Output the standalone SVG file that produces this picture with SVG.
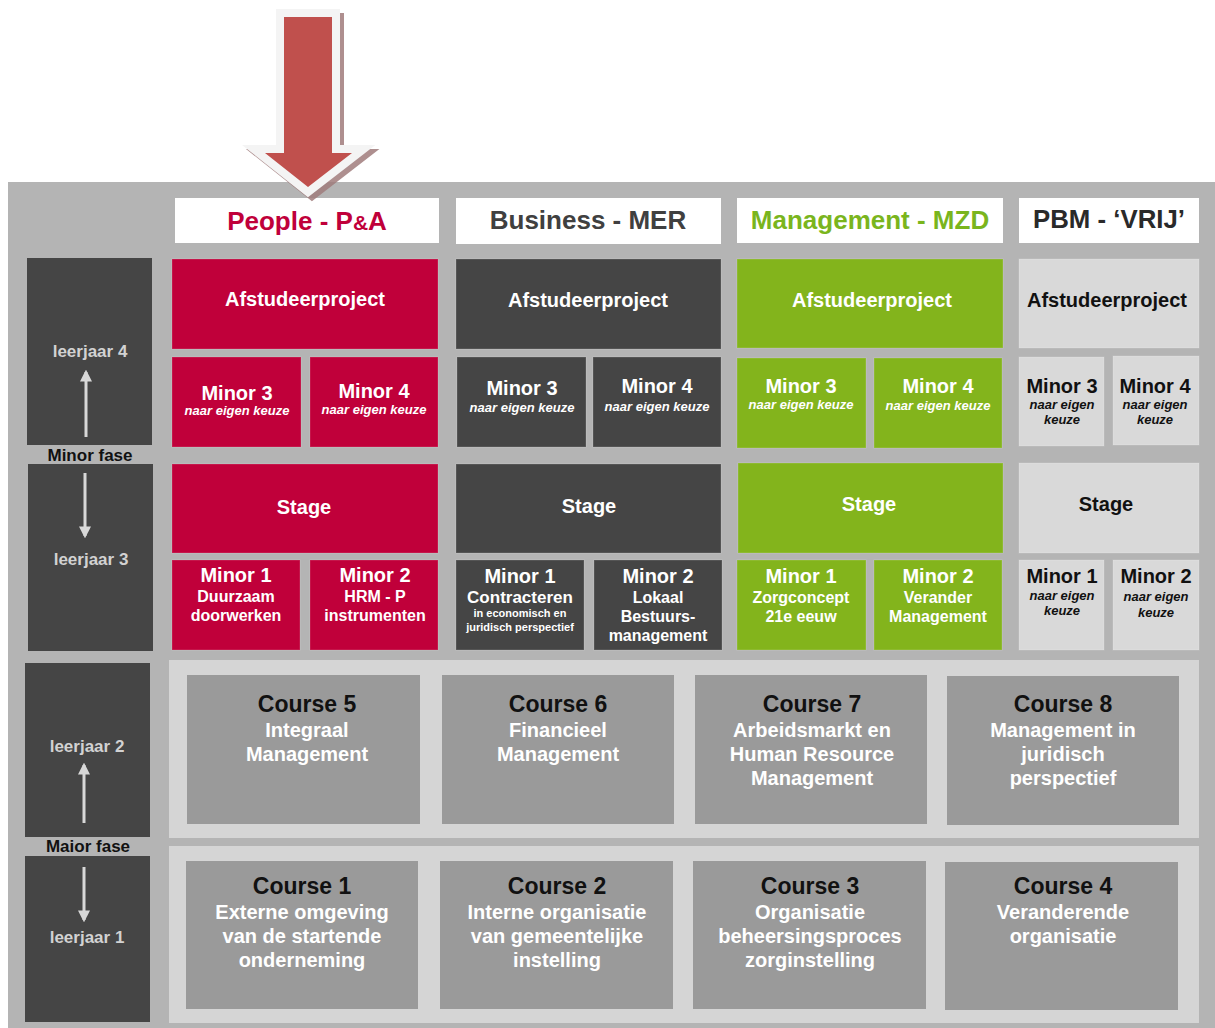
<svg xmlns="http://www.w3.org/2000/svg" width="1215" height="1028" viewBox="0 0 1215 1028">
<defs>
<style>
text{font-family:"Liberation Sans",Arial,sans-serif;font-weight:bold;text-anchor:middle}
.hdr{fill:#ffffff}
.h{font-size:26px}
.red{fill:#c0003a}
.dark{fill:#454545}
.green{fill:#83b41c}
.light{fill:#d9d9d9}
.course{fill:#9a9a9a}
.panel{fill:#d5d5d5}
.side{fill:#454545}
.bx{stroke:#ffffff;stroke-opacity:0.18;stroke-width:1}
.w{fill:#ffffff}
.k{fill:#111111}
.t20{font-size:20px}
.t16{font-size:16px}
.t17{font-size:17px}
.t11{font-size:11px}
.it{font-size:13px;font-style:italic}
.ct{font-size:23px;fill:#111111}
.cs{font-size:20px;fill:#ffffff}
.lj{font-size:17px;fill:#d2d2d2}
.ph{font-size:17px;fill:#111111}
.con{stroke:#d8d8d8;stroke-width:3;fill:none}
</style>
<marker id="ah" viewBox="0 0 10 10" refX="8" refY="5" markerWidth="4" markerHeight="4" orient="auto" markerUnits="strokeWidth">
<path d="M0,0 L10,5 L0,10 z" fill="#d8d8d8"/>
</marker>
</defs>

<rect x="0" y="0" width="1215" height="1028" fill="#ffffff"/>
<rect x="8" y="182" width="1207" height="846" fill="#b4b4b4"/>

<!-- headers -->
<g id="hdr-people"><rect class="hdr" x="175" y="198" width="264" height="45"/><text class="h" x="307" y="230" fill="#c0003a">People - P<tspan font-size="21px">&amp;</tspan>A</text></g>
<g id="hdr-business"><rect class="hdr" x="456" y="198" width="265" height="46"/><text class="h" x="588" y="229" fill="#404040">Business - MER</text></g>
<g id="hdr-management"><rect class="hdr" x="737" y="198" width="266" height="45"/><text class="h" x="870" y="229" fill="#7ab51d">Management - MZD</text></g>
<g id="hdr-pbm"><rect class="hdr" x="1019" y="198" width="180" height="45"/><text class="h" x="1109" y="228" fill="#2a2a2a" textLength="152" lengthAdjust="spacingAndGlyphs">PBM - ‘VRIJ’</text></g>

<!-- top arrow -->
<g id="arrow">
<polygon points="284,17 332,17 332,153 352,153 308,187 265,153 284,153" transform="translate(4,4)" fill="#a07c7c" stroke="#a07c7c" stroke-width="16" stroke-linejoin="miter" stroke-miterlimit="10" opacity="0.85"/>
<polygon points="284,17 332,17 332,153 352,153 308,187 265,153 284,153" fill="#f4f4f4" stroke="#f4f4f4" stroke-width="16" stroke-linejoin="miter" stroke-miterlimit="10"/>
<polygon points="284,17 332,17 332,153 352,153 308,187 265,153 284,153" fill="#c0504d"/>
</g>

<!-- People column -->
<g id="p-afst"><rect class="red bx" x="172" y="259" width="266" height="90"/><text class="w t20" x="305" y="306">Afstudeerproject</text></g>
<g id="p-minor3"><rect class="red bx" x="172" y="357" width="129" height="90"/><text class="w t20" x="237" y="400">Minor 3</text><text class="w it" x="237" y="415">naar eigen keuze</text></g>
<g id="p-minor4"><rect class="red bx" x="310" y="357" width="128" height="90"/><text class="w t20" x="374" y="398">Minor 4</text><text class="w it" x="374" y="414">naar eigen keuze</text></g>
<g id="p-stage"><rect class="red bx" x="172" y="464" width="266" height="89"/><text class="w t20" x="304" y="514">Stage</text></g>
<g id="p-minor1"><rect class="red bx" x="172" y="560" width="128" height="90"/><text class="w t20" x="236" y="582">Minor 1</text><text class="w t16" x="236" y="602">Duurzaam</text><text class="w t16" x="236" y="621">doorwerken</text></g>
<g id="p-minor2"><rect class="red bx" x="310" y="560" width="128" height="90"/><text class="w t20" x="375" y="582">Minor 2</text><text class="w t16" x="375" y="602">HRM - P</text><text class="w t16" x="375" y="621">instrumenten</text></g>

<!-- Business column -->
<g id="b-afst"><rect class="dark bx" x="456" y="259" width="265" height="90"/><text class="w t20" x="588" y="307">Afstudeerproject</text></g>
<g id="b-minor3"><rect class="dark bx" x="457" y="357" width="129" height="90"/><text class="w t20" x="522" y="395">Minor 3</text><text class="w it" x="522" y="412">naar eigen keuze</text></g>
<g id="b-minor4"><rect class="dark bx" x="593" y="357" width="128" height="90"/><text class="w t20" x="657" y="393">Minor 4</text><text class="w it" x="657" y="411">naar eigen keuze</text></g>
<g id="b-stage"><rect class="dark bx" x="456" y="464" width="265" height="89"/><text class="w t20" x="589" y="513">Stage</text></g>
<g id="b-minor1"><rect class="dark bx" x="456" y="560" width="128" height="90"/><text class="w t20" x="520" y="583">Minor 1</text><text class="w t17" x="520" y="603">Contracteren</text><text class="w t11" x="520" y="617">in economisch en</text><text class="w t11" x="520" y="631">juridisch perspectief</text></g>
<g id="b-minor2"><rect class="dark bx" x="594" y="560" width="128" height="90"/><text class="w t20" x="658" y="583">Minor 2</text><text class="w t16" x="658" y="603">Lokaal</text><text class="w t16" x="658" y="622">Bestuurs-</text><text class="w t16" x="658" y="641">management</text></g>

<!-- Management column -->
<g id="m-afst"><rect class="green bx" x="737" y="259" width="266" height="89"/><text class="w t20" x="872" y="307">Afstudeerproject</text></g>
<g id="m-minor3"><rect class="green bx" x="737" y="358" width="129" height="90"/><text class="w t20" x="801" y="393">Minor 3</text><text class="w it" x="801" y="409">naar eigen keuze</text></g>
<g id="m-minor4"><rect class="green bx" x="874" y="358" width="128" height="90"/><text class="w t20" x="938" y="393">Minor 4</text><text class="w it" x="938" y="410">naar eigen keuze</text></g>
<g id="m-stage"><rect class="green bx" x="738" y="463" width="265" height="90"/><text class="w t20" x="869" y="511">Stage</text></g>
<g id="m-minor1"><rect class="green bx" x="737" y="560" width="129" height="90"/><text class="w t20" x="801" y="583">Minor 1</text><text class="w t16" x="801" y="603">Zorgconcept</text><text class="w t16" x="801" y="622">21e eeuw</text></g>
<g id="m-minor2"><rect class="green bx" x="874" y="560" width="128" height="90"/><text class="w t20" x="938" y="583">Minor 2</text><text class="w t16" x="938" y="603">Verander</text><text class="w t16" x="938" y="622">Management</text></g>

<!-- PBM column -->
<g id="v-afst"><rect class="light bx" x="1019" y="259" width="180" height="89"/><text class="k t20" x="1107" y="307">Afstudeerproject</text></g>
<g id="v-minor3"><rect class="light bx" x="1019" y="357" width="85" height="89"/><text class="k t20" x="1062" y="393">Minor 3</text><text class="k it" x="1062" y="409">naar eigen</text><text class="k it" x="1062" y="424">keuze</text></g>
<g id="v-minor4"><rect class="light bx" x="1113" y="356" width="86" height="89"/><text class="k t20" x="1155" y="393">Minor 4</text><text class="k it" x="1155" y="409">naar eigen</text><text class="k it" x="1155" y="424">keuze</text></g>
<g id="v-stage"><rect class="light bx" x="1019" y="463" width="180" height="90"/><text class="k t20" x="1106" y="511">Stage</text></g>
<g id="v-minor1"><rect class="light bx" x="1019" y="560" width="85" height="90"/><text class="k t20" x="1062" y="583">Minor 1</text><text class="k it" x="1062" y="600">naar eigen</text><text class="k it" x="1062" y="615">keuze</text></g>
<g id="v-minor2"><rect class="light bx" x="1113" y="560" width="86" height="90"/><text class="k t20" x="1156" y="583">Minor 2</text><text class="k it" x="1156" y="601">naar eigen</text><text class="k it" x="1156" y="617">keuze</text></g>

<!-- Course panels -->
<g id="panel-2"><rect class="panel" x="169" y="660" width="1030" height="178"/></g>
<g id="panel-1"><rect class="panel" x="169" y="846" width="1030" height="177"/></g>

<g id="course5"><rect class="course" x="187" y="675" width="233" height="149"/><text class="ct" x="307" y="712">Course 5</text><text class="cs" x="307" y="737">Integraal</text><text class="cs" x="307" y="761">Management</text></g>
<g id="course6"><rect class="course" x="442" y="675" width="232" height="149"/><text class="ct" x="558" y="712">Course 6</text><text class="cs" x="558" y="737">Financieel</text><text class="cs" x="558" y="761">Management</text></g>
<g id="course7"><rect class="course" x="695" y="675" width="232" height="149"/><text class="ct" x="812" y="712">Course 7</text><text class="cs" x="812" y="737">Arbeidsmarkt en</text><text class="cs" x="812" y="761">Human Resource</text><text class="cs" x="812" y="785">Management</text></g>
<g id="course8"><rect class="course" x="947" y="676" width="232" height="149"/><text class="ct" x="1063" y="712">Course 8</text><text class="cs" x="1063" y="737">Management in</text><text class="cs" x="1063" y="761">juridisch</text><text class="cs" x="1063" y="785">perspectief</text></g>

<g id="course1"><rect class="course" x="186" y="861" width="232" height="148"/><text class="ct" x="302" y="894">Course 1</text><text class="cs" x="302" y="919">Externe omgeving</text><text class="cs" x="302" y="943">van de startende</text><text class="cs" x="302" y="967">onderneming</text></g>
<g id="course2"><rect class="course" x="440" y="861" width="233" height="148"/><text class="ct" x="557" y="894">Course 2</text><text class="cs" x="557" y="919">Interne organisatie</text><text class="cs" x="557" y="943">van gemeentelijke</text><text class="cs" x="557" y="967">instelling</text></g>
<g id="course3"><rect class="course" x="693" y="861" width="233" height="148"/><text class="ct" x="810" y="894">Course 3</text><text class="cs" x="810" y="919">Organisatie</text><text class="cs" x="810" y="943">beheersingsproces</text><text class="cs" x="810" y="967">zorginstelling</text></g>
<g id="course4"><rect class="course" x="945" y="862" width="233" height="148"/><text class="ct" x="1063" y="894">Course 4</text><text class="cs" x="1063" y="919">Veranderende</text><text class="cs" x="1063" y="943">organisatie</text></g>

<!-- side column -->
<g id="leerjaar4"><rect class="side" x="27" y="258" width="125" height="187"/><text class="lj" x="90" y="357">leerjaar 4</text></g>
<g id="minorfase"><text class="ph" x="90" y="461">Minor fase</text></g>
<g id="leerjaar3"><rect class="side" x="28" y="464" width="125" height="187"/><text class="lj" x="91" y="565">leerjaar 3</text></g>
<g id="leerjaar2"><rect class="side" x="25" y="663" width="125" height="174"/><text class="lj" x="87" y="752">leerjaar 2</text></g>
<g id="maiorfase"><text class="ph" x="88" y="852">Maior fase</text></g>
<g id="leerjaar1"><rect class="side" x="25" y="856" width="125" height="166"/><text class="lj" x="87" y="943">leerjaar 1</text></g>

<!-- connectors -->
<g id="connectors">
<line class="con" x1="86" y1="437" x2="86" y2="372" marker-end="url(#ah)"/>
<line class="con" x1="85" y1="473" x2="85" y2="536" marker-end="url(#ah)"/>
<line class="con" x1="84" y1="823" x2="84" y2="765" marker-end="url(#ah)"/>
<line class="con" x1="84" y1="867" x2="84" y2="920" marker-end="url(#ah)"/>
</g>
</svg>
